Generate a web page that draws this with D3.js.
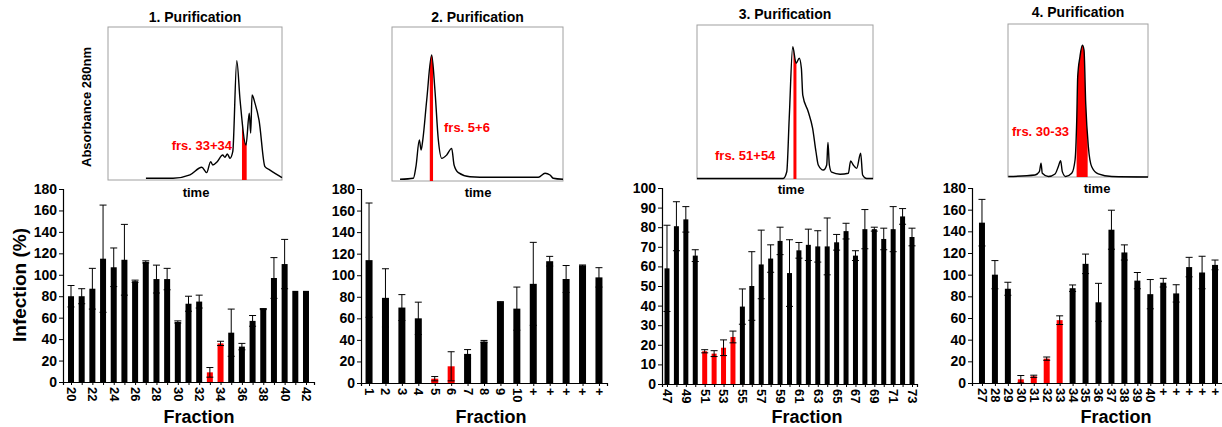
<!DOCTYPE html>
<html>
<head>
<meta charset="utf-8">
<script src="https://cdn.jsdelivr.net/npm/d3@7"></script>
<style>
  body { margin: 0; background: #fff; }
  svg { font-family: "Liberation Sans", Arial, sans-serif; font-weight: bold; }
</style>
</head>
<body>
<svg width="1222" height="427"></svg>
<script>
// ---- bar data (infection %, error) ----
const frac1 = ["20","21","22","23","24","25","26","27","28","29","30","31","32","33","34","35","36","37","38","39","40","41","42"];
const inf1 = [80, 80, 87, 115, 107, 114, 94, 112, 96, 96, 56, 73, 75, 9, 36, 46, 33, 57, 68, 97, 110, 85, 85];
const err1 = [10, 7, 19, 50, 18, 33, 1, 1, 13, 10, 1, 7, 6, 4.5, 2, 22, 3, 5, 0.5, 19, 23, 0, 0];
const red1 = ["33", "34"];

const frac2 = ["1","2","3","4","5","6","7","8","9","10","+","+","+","+","+"];
const inf2 = [114, 79, 70, 60, 4, 15.5, 27, 38.5, 75, 69, 92, 113, 96.5, 109, 98];
const err2 = [53, 27, 12, 15, 2, 13.5, 4, 1, 0.5, 20, 38.5, 4.5, 12.5, 0.5, 9];
const red2 = ["5", "6"];

const frac3 = ["47","48","49","50","51","52","53","54","55","56","57","58","59","60","61","62","63","64","65","66","67","68","69","70","71","72","73"];
const inf3 = [59, 80.5, 84, 65.5, 16.7, 15.5, 18.5, 24, 39.5, 50, 61, 64, 73, 56.6, 68.2, 71, 70.2, 70.2, 72.3, 78, 65.5, 79, 79, 74, 79, 85.5, 75];
const err3 = [22, 12.5, 6.5, 3, 0.8, 1.5, 4, 3, 9, 17.5, 17.5, 7, 7, 17, 4, 8, 8, 14.5, 4, 4, 2.5, 10, 1, 5.5, 11.5, 4, 4.5];
const red3 = ["51", "52", "53", "54"];

const frac4 = ["27","28","29","30","31","32","33","34","35","36","37","38","39","40","+","+","+","+","+"];
const inf4 = [148, 100, 87, 3.4, 6.2, 22.5, 58, 87.5, 110, 74.5, 141.5, 120.5, 94.5, 82, 92.6, 82.7, 107, 102, 109];
const err4 = [21.5, 13, 6, 3.5, 1, 1.5, 4, 3, 9, 17.5, 18, 7, 7.5, 13.5, 4, 8, 9, 15, 4.5];
const red4 = ["30", "31", "32", "33"];

// ---- chromatograms: [time %, absorbance %] ----
const trace1 = [[21.8,1.1],[37.4,1.1],[47.1,3.3],[53.9,8.3],[56.7,4.8],[59,12],[60.2,9.8],[62.8,12],[65.9,16.3],[67.2,14.8],[68.6,17],[70.1,14.2],[71.7,18.5],[74,78],[75.9,52.3],[79.3,22.9],[81.2,43.6],[82,30.7],[82.8,55.6],[84.5,50.1],[86.8,39.2],[90.2,8.7],[93.1,6.5],[100,1.6]];
const trace2 = [[4.7,1.1],[12.5,1.8],[14,9.3],[16,26.6],[17,20.1],[18,26.6],[20.3,52.6],[23.2,81.8],[25.1,59.1],[27.1,26.6],[29.1,14.7],[32,16.9],[34.9,21.2],[36.3,10.4],[38.8,5.4],[45.6,2.8],[57.3,2.4],[76.8,2.4],[85.6,2.4],[89.5,5],[92.4,3.9],[94.3,1.8],[100,1.1]];
const trace3 = [[0,0.3],[49,0.3],[51,4.7],[52.4,39.4],[54.4,85.9],[56.3,75.1],[58.1,78.4],[59.3,71.9],[60.1,54.5],[63.2,43.7],[65.7,32.9],[67.6,17.7],[68.9,9.1],[71.8,5.8],[73.7,9.1],[74.4,23.8],[75.2,9.1],[76.5,4.4],[81.3,3.1],[86,3.7],[87.3,11.7],[88.8,9.1],[90.7,6.9],[93,16.7],[94.1,2.6],[96.4,0.3],[100,0.3]];
const trace4 = [[0.2,0.3],[19.3,1.3],[22.4,3.5],[23.6,9],[24.5,2.4],[28.8,0.3],[33.6,2],[35.9,6.7],[37.6,10.7],[38.8,3.5],[41.2,0.3],[45.5,2.4],[47.9,11.1],[49.1,37.3],[49.8,65.6],[51.4,78.6],[53.1,86.1],[54.3,83],[55.5,48.2],[57.4,19.8],[59.8,6.7],[64.5,2],[74.1,0.3],[100,0]];

const titles = ["1. Purification", "2. Purification", "3. Purification", "4. Purification"];
const pooled = ["frs. 33+34", "frs. 5+6", "frs. 51+54", "frs. 30-33"];
const pooledRange = [[77, 79.7], [22.1, 24], [54.8, 56.5], [49, 56.9]];

var svg = d3.select("svg");

var panels = [
  { labels: frac1, vals: inf1, errs: err1, red: red1, trace: trace1, yMax: 180, yStep: 20, every: 2,
    ax: 63, x0: 63, x1: 314, pad: 0.75, y0: 382, yTop: 189, bw: 6,
    box: [108, 27, 282, 180], titleY: 22, timeX: 196, timeY: 197,
    lab: { x: 232, y: 150, anchor: "end" }, fracX: 199 },
  { labels: frac2, vals: inf2, errs: err2, red: red2, trace: trace2, yMax: 180, yStep: 20, every: 1,
    ax: 361, x0: 361, x1: 607, pad: 0.49, y0: 383, yTop: 189, bw: 7,
    box: [392, 27, 563, 181], titleY: 22, timeX: 478, timeY: 197,
    lab: { x: 444, y: 132, anchor: "start" }, fracX: 491 },
  { labels: frac3, vals: inf3, errs: err3, red: red3, trace: trace3, yMax: 100, yStep: 10, every: 2,
    ax: 662, x0: 662, x1: 917, pad: 0.53, y0: 384, yTop: 188, bw: 5,
    box: [697, 25, 873, 179], titleY: 19, timeX: 791, timeY: 194,
    lab: { x: 715, y: 160, anchor: "start" }, fracX: 807 },
  { labels: frac4, vals: inf4, errs: err4, red: red4, trace: trace4, yMax: 180, yStep: 20, every: 1,
    ax: 972, x0: 972, x1: 1225, pad: 0.77, y0: 383, yTop: 188, bw: 6,
    box: [1008, 24, 1148, 177], titleY: 17, timeX: 1097, timeY: 193,
    lab: { x: 1012, y: 136, anchor: "start" }, fracX: 1116 }
];

panels.forEach((p, k) => {
  var g = svg.append("g");
  var idx = p.labels.map((d, i) => i);

  var x = d3.scalePoint().domain(idx).range([p.x0, p.x1]).padding(p.pad);
  var y = d3.scaleLinear().domain([0, p.yMax]).range([p.y0, p.yTop]);

  // y axis
  var yAxis = g.append("g")
    .attr("transform", "translate(" + p.ax + ",0)")
    .call(d3.axisLeft(y).tickValues(d3.range(0, p.yMax + 1, p.yStep)).tickSize(4).tickPadding(2));
  yAxis.selectAll("text").style("font-size", "14px").style("font-weight", "bold").attr("fill", "#000");

  // x axis
  var xAxis = g.append("g")
    .attr("transform", "translate(0," + p.y0 + ")")
    .call(d3.axisBottom(x).tickSize(3).tickFormat(i => p.labels[i]));
  xAxis.selectAll(".tick")
    .filter(i => i % p.every !== 0)
    .select("text").remove();
  xAxis.selectAll("text")
    .attr("transform", "rotate(90)")
    .attr("x", 5).attr("y", 0).attr("dy", "0.35em")
    .style("text-anchor", "start")
    .style("font-size", "13px").style("font-weight", "bold").attr("fill", "#000");
  g.selectAll(".domain").attr("stroke", "#000").attr("stroke-width", 1.2);

  // bars
  g.selectAll("rect.bar").data(idx).enter().append("rect")
    .attr("class", "bar")
    .attr("x", i => x(i) - p.bw / 2)
    .attr("width", p.bw)
    .attr("y", i => y(p.vals[i]))
    .attr("height", i => p.y0 - y(p.vals[i]))
    .attr("fill", i => p.red.includes(p.labels[i]) ? "#ff0000" : "#000");

  // error bars
  var eb = g.selectAll("g.err").data(idx.filter(i => p.errs[i] > 0)).enter().append("g")
    .attr("stroke", "#000").attr("stroke-width", 1);
  eb.append("line")
    .attr("x1", i => x(i)).attr("x2", i => x(i))
    .attr("y1", i => y(Math.max(0, p.vals[i] - p.errs[i])))
    .attr("y2", i => y(p.vals[i] + p.errs[i]));
  eb.append("line")
    .attr("x1", i => x(i) - 3.5).attr("x2", i => x(i) + 3.5)
    .attr("y1", i => y(p.vals[i] + p.errs[i])).attr("y2", i => y(p.vals[i] + p.errs[i]));
  eb.append("line")
    .attr("x1", i => x(i) - 3.5).attr("x2", i => x(i) + 3.5)
    .attr("y1", i => y(Math.max(0, p.vals[i] - p.errs[i]))).attr("y2", i => y(Math.max(0, p.vals[i] - p.errs[i])));

  g.append("text")
    .attr("x", p.fracX).attr("y", 423)
    .attr("text-anchor", "middle")
    .style("font-size", "18px")
    .text("Fraction");

  // chromatogram inset
  var b = p.box;
  var tx = d3.scaleLinear().domain([0, 100]).range([b[0], b[2]]);
  var ty = d3.scaleLinear().domain([0, 100]).range([b[3], b[1]]);

  g.append("rect")
    .attr("x", b[0]).attr("y", b[1])
    .attr("width", b[2] - b[0]).attr("height", b[3] - b[1])
    .attr("fill", "#fff").attr("stroke", "#a0a0a0").attr("stroke-width", 1);

  var clipId = "clip" + k;
  var r = pooledRange[k];
  svg.append("clipPath").attr("id", clipId).append("rect")
    .attr("x", tx(r[0])).attr("width", tx(r[1]) - tx(r[0]))
    .attr("y", b[1]).attr("height", b[3] - b[1]);

  var area = d3.area().curve(d3.curveMonotoneX)
    .x(d => tx(d[0])).y0(b[3]).y1(d => ty(d[1]));
  g.append("path")
    .datum(p.trace)
    .attr("clip-path", "url(#" + clipId + ")")
    .attr("d", area)
    .attr("fill", "#ff0000");

  var line = d3.line().curve(d3.curveMonotoneX)
    .x(d => tx(d[0])).y(d => ty(d[1]));
  g.append("path")
    .datum(p.trace)
    .attr("d", line)
    .attr("fill", "none").attr("stroke", "#000").attr("stroke-width", 1.4);

  g.append("text")
    .attr("x", (b[0] + b[2]) / 2).attr("y", p.titleY)
    .attr("text-anchor", "middle")
    .style("font-size", "14px")
    .text(titles[k]);

  g.append("text")
    .attr("x", p.timeX).attr("y", p.timeY)
    .attr("text-anchor", "middle")
    .style("font-size", "13px")
    .text("time");

  g.append("text")
    .attr("x", p.lab.x).attr("y", p.lab.y)
    .attr("text-anchor", p.lab.anchor)
    .attr("fill", "#ff0000")
    .style("font-size", "13px")
    .text(pooled[k]);
});

svg.append("text")
  .attr("transform", "translate(91,107) rotate(-90)")
  .attr("text-anchor", "middle")
  .style("font-size", "13px")
  .text("Absorbance 280nm");

svg.append("text")
  .attr("transform", "translate(26,285) rotate(-90)")
  .attr("text-anchor", "middle")
  .style("font-size", "19px")
  .text("Infection (%)");
</script>
</body>
</html>
